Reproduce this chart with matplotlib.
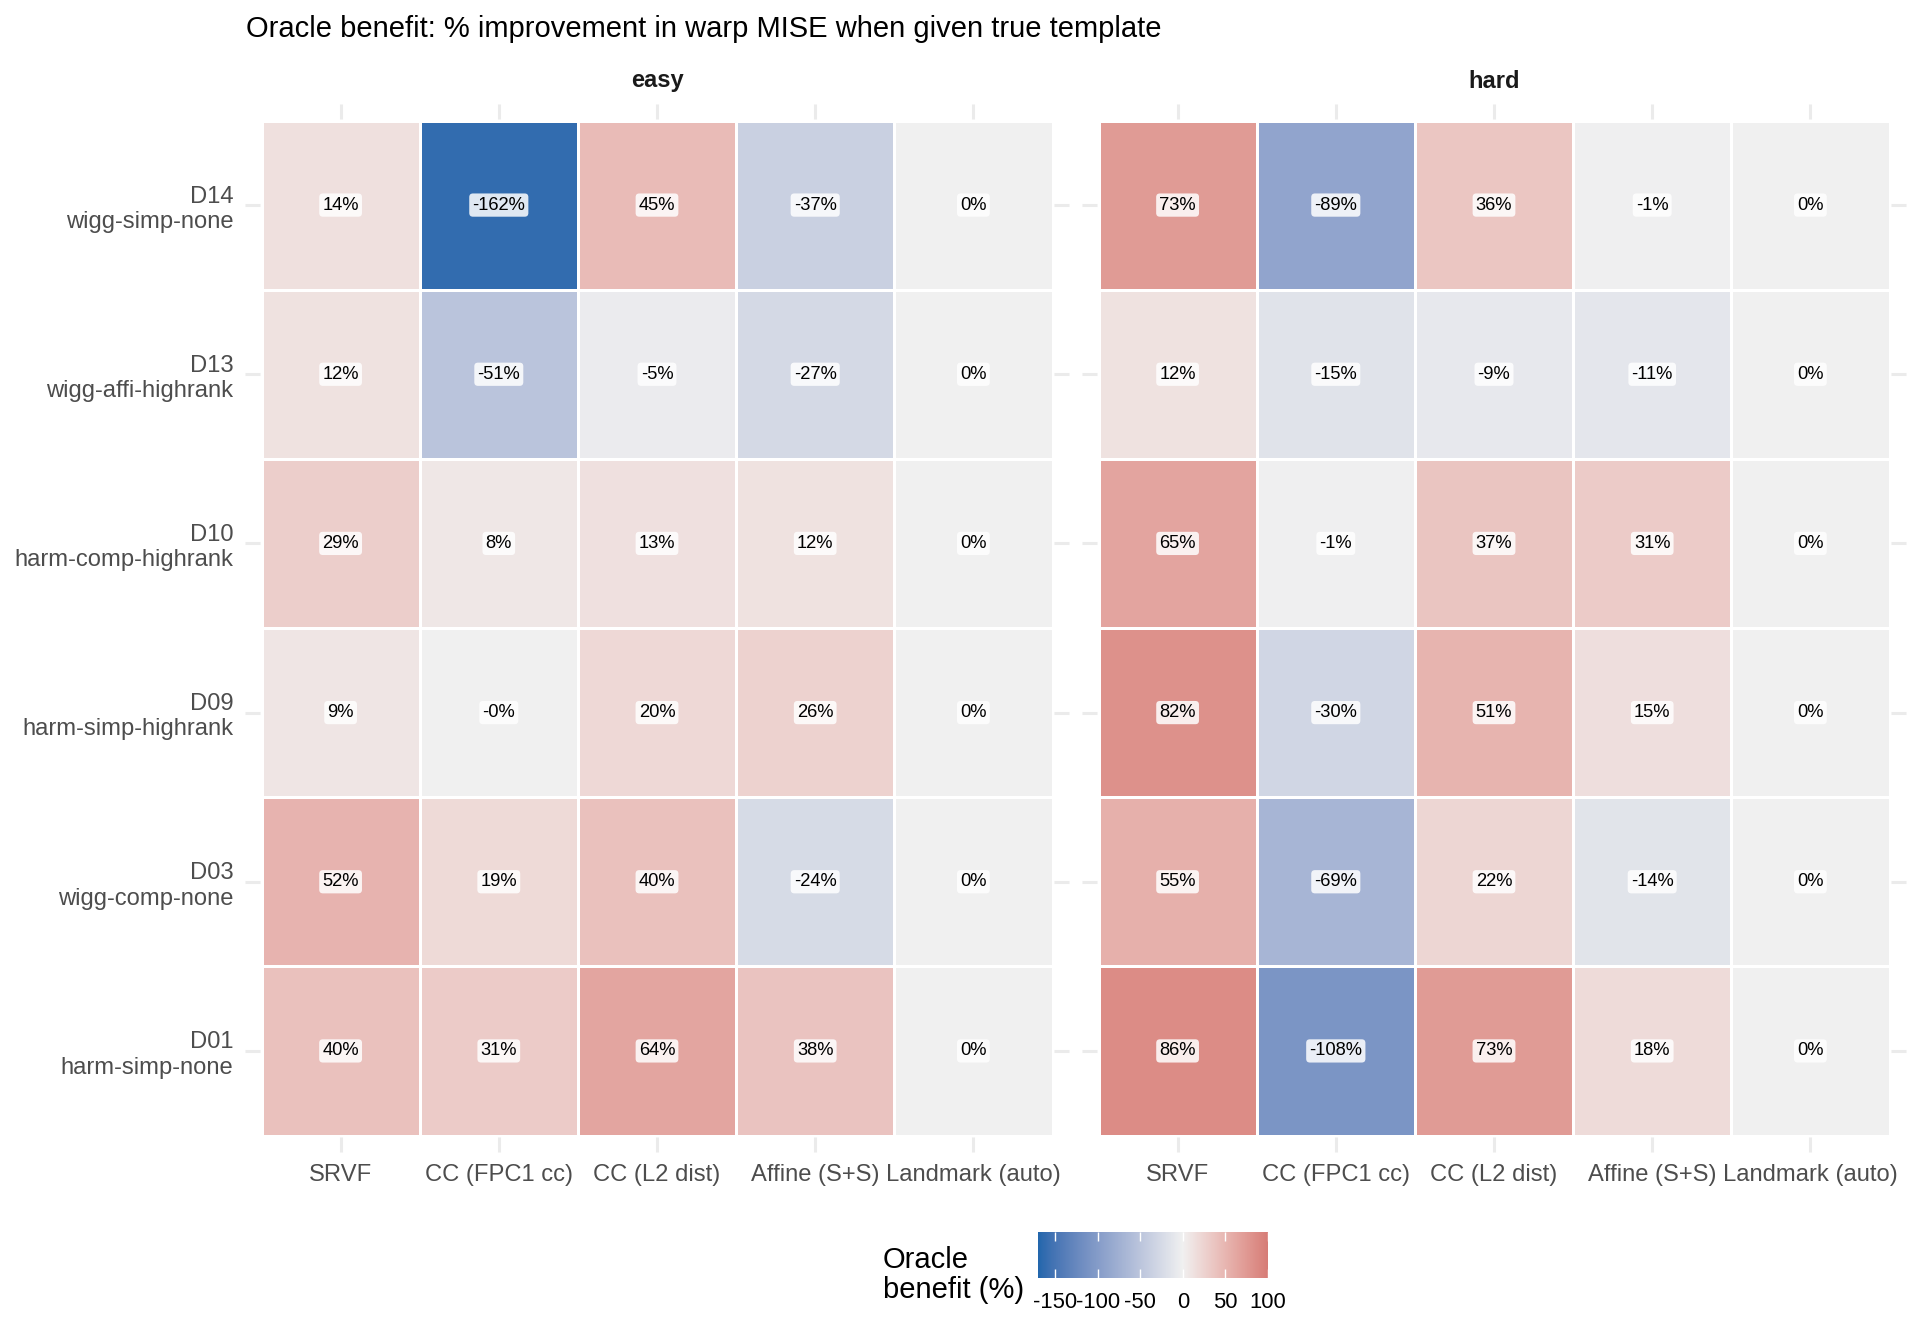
import numpy as np
import matplotlib
matplotlib.use("Agg")
import matplotlib.pyplot as plt
from matplotlib.colors import ListedColormap, Normalize, to_rgb

plt.rcParams['font.family'] = ['Liberation Sans', 'DejaVu Sans']

# data (rows top to bottom)
datasets = ["D14\nwigg-simp-none", "D13\nwigg-affi-highrank", "D10\nharm-comp-highrank",
            "D09\nharm-simp-highrank", "D03\nwigg-comp-none", "D01\nharm-simp-none"]
methods = ["SRVF", "CC (FPC1 cc)", "CC (L2 dist)", "Affine (S+S)", "Landmark (auto)"]
panels = ["easy", "hard"]

easy = [[14, -162, 45, -37, 0],
        [12, -51, -5, -27, 0],
        [29, 8, 13, 12, 0],
        [9, -0.2, 20, 26, 0],
        [52, 19, 40, -24, 0],
        [40, 31, 64, 38, 0]]
hard = [[73, -89, 36, -1, 0],
        [12, -15, -9, -11, 0],
        [65, -1, 37, 31, 0],
        [82, -30, 51, 15, 0],
        [55, -69, 22, -14, 0],
        [86, -108, 73, 18, 0]]

lims = (-170, 100)
cbar_ticks = [-150, -100, -50, 0, 50, 100]


# ggplot-like gradient2, interpolated in Lab
def to_lab(c):
    c = np.asarray(c, dtype=float)
    lin = np.where(c <= 0.04045, c / 12.92, ((c + 0.055) / 1.055) ** 2.4)
    M = np.array([[0.4124, 0.3576, 0.1805], [0.2126, 0.7152, 0.0722], [0.0193, 0.1192, 0.9505]])
    xyz = M @ lin / np.array([0.95047, 1.0, 1.08883])
    f = np.where(xyz > (6 / 29) ** 3, np.cbrt(xyz), xyz / (3 * (6 / 29) ** 2) + 4 / 29)
    return np.array([116 * f[1] - 16, 500 * (f[0] - f[1]), 200 * (f[1] - f[2])])


def from_lab(lab):
    L, a, b = lab
    fy = (L + 16) / 116
    fx = fy + a / 500
    fz = fy - b / 200
    fs = np.array([fx, fy, fz])
    xyz = np.where(fs > 6 / 29, fs ** 3, 3 * (6 / 29) ** 2 * (fs - 4 / 29)) * np.array([0.95047, 1.0, 1.08883])
    Minv = np.array([[3.2406, -1.5372, -0.4986], [-0.9689, 1.8758, 0.0415], [0.0557, -0.2040, 1.0570]])
    lin = Minv @ xyz
    c = np.where(lin <= 0.0031308, 12.92 * lin, 1.055 * np.clip(lin, 0, None) ** (1 / 2.4) - 0.055)
    return np.clip(c, 0, 1)


low, mid, high = to_lab(to_rgb("#2166AC")), to_lab(to_rgb("#F0F0F0")), to_lab(to_rgb("#B2182B"))
vals = np.linspace(lims[0], lims[1], 512)
big = max(abs(lims[0]), abs(lims[1]))
cols = []
for v in vals:
    t = v / big
    if t < 0:
        cols.append(from_lab(mid + (low - mid) * (-t)))
    else:
        cols.append(from_lab(mid + (high - mid) * t))
cmap = ListedColormap(cols)
norm = Normalize(lims[0], lims[1])

fig = plt.figure(figsize=(19.2, 13.44), dpi=100)
W, H = 1920, 1344

fig.text(246 / W, 1 - 37 / H, "Oracle benefit: % improvement in warp MISE when given true template",
         fontsize=21, va='baseline', ha='left', color='black')

tick_col = '#ebebeb'
for k, (name, mat) in enumerate(zip(panels, [easy, hard])):
    left = [261.5, 1098.5][k]
    ax = fig.add_axes([left / W, 208.5 / H, 791 / W, 1015 / H])
    m = np.array(mat, dtype=float)
    ax.pcolormesh(m, cmap=cmap, norm=norm, edgecolors='white', linewidth=2.0)
    ax.set_xlim(0, len(methods))
    ax.set_ylim(len(datasets), 0)
    for i in range(m.shape[0]):
        for j in range(m.shape[1]):
            ax.text(j + 0.5, i + 0.5, f"{m[i, j]:.0f}%", ha='center', va='center', fontsize=13.2,
                    color='black',
                    bbox=dict(boxstyle='round,pad=0.17,rounding_size=0.2', facecolor='white',
                              alpha=0.85, edgecolor='none'))
    ax.set_xticks(np.arange(len(methods)) + 0.5)
    ax.set_xticklabels(methods)
    ax.set_yticks(np.arange(len(datasets)) + 0.5)
    if k == 0:
        ax.set_yticklabels(datasets, linespacing=0.95)
    else:
        ax.set_yticklabels([])
    ax.tick_params(axis='both', which='both', direction='out', length=10.8, width=2.2,
                   color=tick_col, top=True, right=True, left=True, bottom=True,
                   labelsize=17.1, labelcolor='#4d4d4d')
    ax.tick_params(axis='x', pad=9)
    ax.tick_params(axis='y', pad=8.5)
    for s in ax.spines.values():
        s.set_visible(False)
        s.set_position(('outward', 1))
    fig.text((left + 395.5) / W, 1 - 81 / H, name, fontsize=17, fontweight='bold',
             ha='center', va='center', color='#1a1a1a')

# colour bar legend
cax = fig.add_axes([1038 / W, 66 / H, 230 / W, 46 / H])
sm = plt.cm.ScalarMappable(norm=norm, cmap=cmap)
cb = fig.colorbar(sm, cax=cax, orientation='horizontal')
cb.outline.set_visible(False)
cb.set_ticks(cbar_ticks)
cb.set_ticklabels([str(t) for t in cbar_ticks])
cax.tick_params(axis='x', direction='in', length=6.5, width=1, color='white', top=True,
                bottom=True, labelsize=15.8, labelcolor='black', pad=10)
fig.text(883 / W, 1 - 1275 / H, "Oracle\nbenefit (%)", fontsize=21, ha='left', va='center',
         linespacing=1.05, color='black')

fig.savefig("out.png", dpi=100, facecolor='white')
